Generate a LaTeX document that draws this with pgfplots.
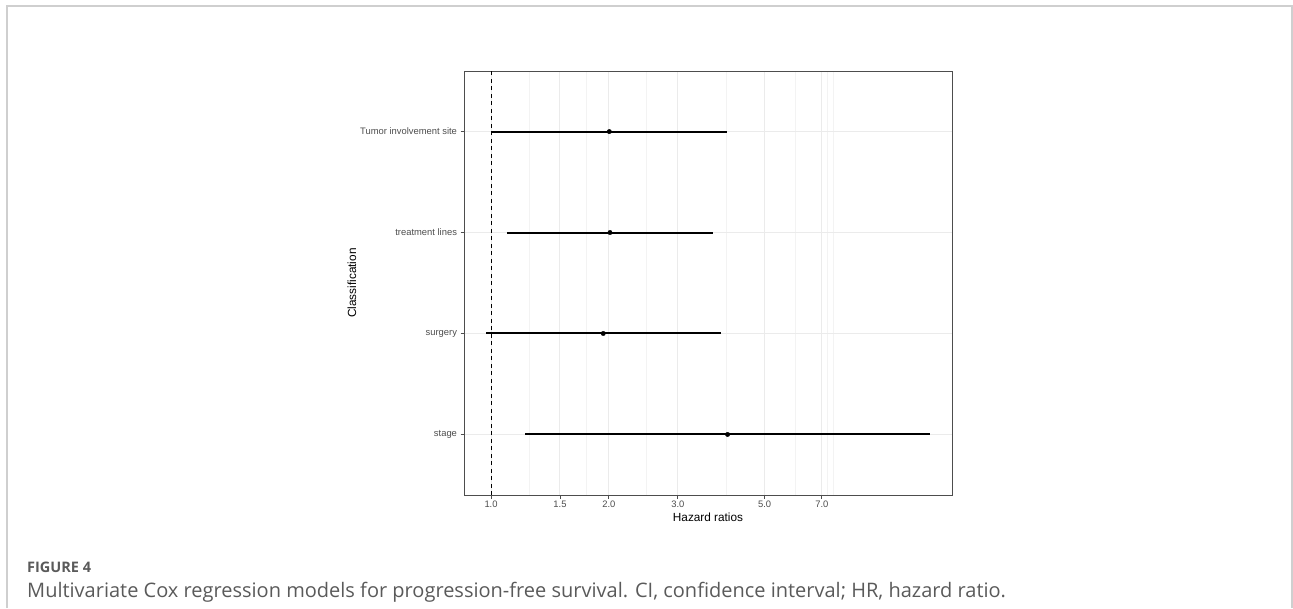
\documentclass[border=0pt]{standalone}
\usepackage{fontspec}
\setmainfont{Liberation Sans}
\newfontfamily\capfont{Open Sans}
\usepackage{pgfplots}
\pgfplotsset{compat=1.18}

\definecolor{gridmaj}{HTML}{EBEBEB}
\definecolor{gridmin}{HTML}{F3F3F3}
\definecolor{ticktxt}{HTML}{4D4D4D}
\definecolor{panelbd}{HTML}{4D4D4D}
\definecolor{framegray}{HTML}{CFCFCF}
\definecolor{captxt}{HTML}{5A5A5A}

\begin{document}
\begin{tikzpicture}[x=1pt,y=1pt]
% page = 1293 x 608 px, 1px = 1pt, origin at top left
\path[use as bounding box] (0,0) rectangle (1293,-608);
\draw[framegray, line width=1.5pt] (7,-608) -- (7,-6) -- (1292,-6) -- (1292,-608);

\begin{axis}[
    at={(464pt,-495pt)}, anchor=south west,
    scale only axis, width=488pt, height=424pt,
    xmode=log, xmin=0.853, xmax=15.05,
    ymin=0.4, ymax=4.6,
    xtick={1,1.5,2,3,5,7},
    xticklabels={1.0,1.5,2.0,3.0,5.0,7.0},
    minor xtick={1.25,1.75,2.5,4,6,7.25,7.5},
    ytick={1,2,3,4},
    yticklabels={stage,surgery,treatment lines,Tumor involvement site},
    xmajorgrids, xminorgrids, ymajorgrids,
    major grid style={gridmaj, line width=1pt},
    minor grid style={gridmin, line width=0.8pt},
    axis line style={panelbd, line width=0.9pt},
    tick style={panelbd, line width=0.9pt},
    major tick length=3.5pt, minor tick length=0pt,
    tick align=outside, xtick pos=bottom, ytick pos=left,
    tick label style={font=\fontsize{9.4}{11}\selectfont, text=ticktxt},
    xticklabel style={yshift=1pt},
    xlabel={Hazard ratios}, ylabel={Classification},
    label style={font=\fontsize{11.8}{13}\selectfont},
    xlabel style={at={(axis description cs:0.5,-0.052)}, anchor=center},
    ylabel style={at={(axis description cs:-0.2295,0.5)}, anchor=center},
    clip=false,
]
% reference line at HR = 1
\addplot[black, line width=0.9pt, dash pattern=on 4pt off 3.5pt] coordinates {(1,0.4) (1,4.6)};

% 95% CI bars
\addplot[black, line width=2pt] coordinates {(1.00,4) (4.00,4)};
\addplot[black, line width=2pt] coordinates {(1.10,3) (3.70,3)};
\addplot[black, line width=2pt] coordinates {(0.971,2) (3.86,2)};
\addplot[black, line width=2pt] coordinates {(1.223,1) (13.23,1)};

% hazard ratios
\addplot[only marks, mark=*, mark size=2.2pt, black] coordinates {
    (2.005,4) (2.013,3) (1.935,2) (4.02,1)
};
\end{axis}

\node[anchor=base west, inner sep=0, text=captxt, font=\capfont\bfseries\fontsize{14.5}{16}\selectfont] at (27,-572) {FIGURE 4};
\node[anchor=base west, inner sep=0, text=captxt, font=\capfont\fontsize{20}{23}\selectfont] at (27,-597)
    {Multivariate Cox regression models for progression-free survival. CI, confidence interval; HR, hazard ratio.};
\end{tikzpicture}
\end{document}
